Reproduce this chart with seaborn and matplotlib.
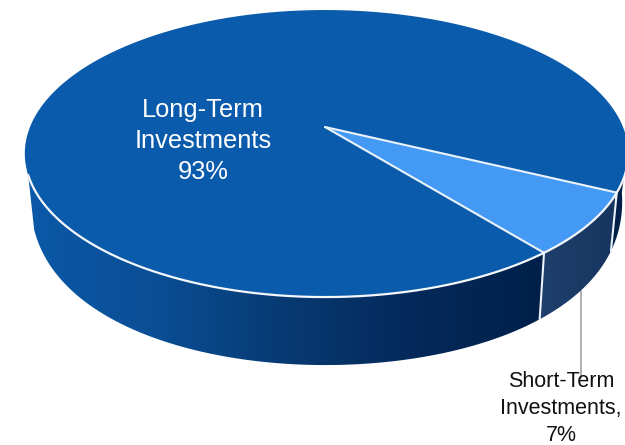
import numpy as np
import matplotlib
matplotlib.use("Agg")
import matplotlib.pyplot as plt
from matplotlib.patches import Polygon
import seaborn as sns

# Portfolio shares
categories = ["Long-Term\nInvestments\n93%", "Short-Term\nInvestments,\n7%"]
shares = [93, 7]
start_angle = 25.8  # degrees, where the short-term slice begins

top_colors = ["#0A5BAB", "#4499F5"]
long_wall_stops = ["#0B59A8", "#0A4E95", "#073A72", "#04295A", "#00204A"]
short_wall_stops = ["#1F3F6D", "#17355F"]

sns.set_theme(style="white")
plt.rcParams["font.family"] = ["Liberation Sans", "DejaVu Sans"]

fig, ax = plt.subplots(figsize=(6.25, 4.45), dpi=100)
ax.set_position([0, 0, 1, 1])
ax.axis("off")

# Perspective disk: the hub sits above the centre of the projected ellipse
cx, cy, a_left, a_right, b, p = 325.0, 127.0, 295.0, 298.0, 138.6, 0.185


def rim(theta_deg):
    t = np.radians(theta_deg)
    u, v = np.cos(t), np.sin(t)
    w = 1 - p * v
    a = np.where(u >= 0, a_right, a_left)
    return cx + a * u / w, cy + b * v / w


def base(theta_deg):
    x, y = rim(theta_deg)
    v = np.sin(np.radians(theta_deg))
    return cx + 0.98 * (x - cx), y + 68 - 30 * (1 - v) ** 2


def wall_polygon(t0, t1):
    thetas = np.linspace(t0, t1, 200)
    xr, yr = rim(thetas)
    xb, yb = base(thetas[::-1])
    return np.c_[np.r_[xr, xb], np.r_[yr, yb]]


def shade_wall(t0, t1, stops, x0, x1):
    # Horizontal colour ramp clipped to one stretch of the side wall
    cmap = sns.blend_palette(stops, as_cmap=True)
    ramp = np.linspace(0, 1, 256)[None, :]
    im = ax.imshow(ramp, cmap=cmap, extent=[x0, x1, 445, 0], aspect="auto",
                   interpolation="bilinear", zorder=1)
    outline = Polygon(wall_polygon(t0, t1), closed=True, transform=ax.transData,
                      facecolor="none", edgecolor="none")
    ax.add_patch(outline)
    im.set_clip_path(outline)


sweep = shares[1] / sum(shares) * 360
end_angle = start_angle + sweep
wall_start, wall_end, rim_start = 8.0, 161.0, 15.0

# Side wall
shade_wall(end_angle, wall_end, long_wall_stops, 25, 545)
shade_wall(start_angle, end_angle, short_wall_stops, 540, 615)
shade_wall(wall_start, start_angle, long_wall_stops[-1:] * 2, 600, 640)

# Top face
arc_all = np.linspace(0, 360, 721)
x_top, y_top = rim(arc_all)
ax.fill(x_top, y_top, color=top_colors[0], lw=0, zorder=2)
arc_short = np.linspace(start_angle, end_angle, 80)
xs, ys = rim(arc_short)
ax.fill(np.r_[cx, xs], np.r_[cy, ys], color=top_colors[1], lw=0, zorder=3)

# White seams
seam = "#EAF2FB"
for ang in (start_angle, end_angle):
    xr, yr = rim(ang)
    xq, yq = base(ang)
    ax.plot([cx, xr], [cy, yr], color=seam, lw=1.5, zorder=4, solid_capstyle="round")
    ax.plot([xr, xq], [yr, yq], color=seam, lw=1.5, zorder=4)
arc_front = np.linspace(rim_start, wall_end, 400)
xf, yf = rim(arc_front)
ax.plot(xf, yf, color="#F4F7FB", lw=1.6, zorder=4)

# Leader line for the short-term label
x_lead = 581
ax.plot([x_lead, x_lead], [291, 378], color="#A9A9A9", lw=1.3, zorder=0.5)

# Labels
ax.text(203, 141, categories[0], color="white", fontsize=18.3, ha="center",
        va="center", linespacing=1.36, zorder=5)
ax.text(561, 408.5, categories[1], color="#111111", fontsize=15.5, ha="center",
        va="center", linespacing=1.37, zorder=5)

ax.set_xlim(0, 625)
ax.set_ylim(445, 0)
fig.savefig("out.png", dpi=100, facecolor="white")
